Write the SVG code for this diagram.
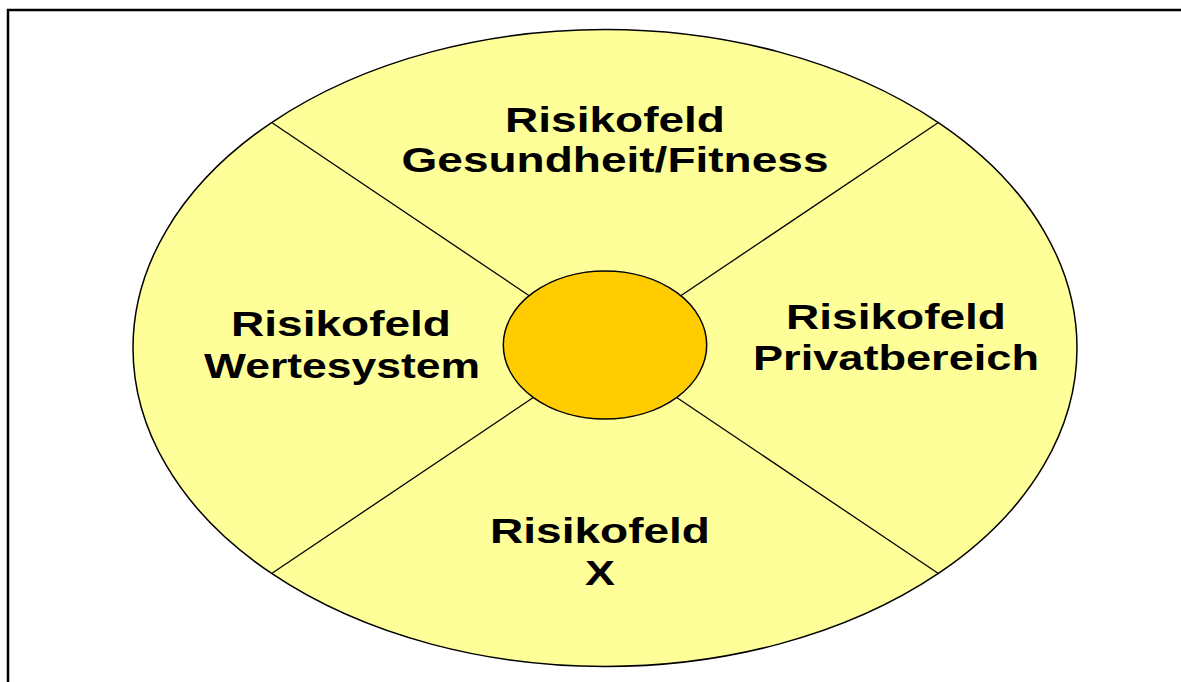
<svg xmlns="http://www.w3.org/2000/svg" width="1181" height="682" viewBox="0 0 1181 682">
<style>
.lbl{font-family:"Liberation Sans",Arial,sans-serif;font-weight:bold;font-size:35px;fill:#000;text-anchor:middle}
.div{stroke:#000;stroke-width:1.3;fill:none}
</style>
<rect width="1181" height="682" fill="#fff"/>
<path d="M8,682 V10 H1181" fill="none" stroke="#000" stroke-width="2.5"/>
<g id="outer">
<ellipse cx="605" cy="348" rx="472" ry="318.5" fill="#FFFF99" stroke="#000" stroke-width="1.5"/>
</g>
<g id="connectors">
<line class="div" x1="272" y1="122.7" x2="540" y2="303"/>
<line class="div" x1="938" y1="122.7" x2="670" y2="303"/>
<line class="div" x1="272" y1="573.3" x2="540" y2="393"/>
<line class="div" x1="938" y1="573.3" x2="670" y2="393"/>
</g>
<g id="center">
<ellipse cx="605" cy="345" rx="101.7" ry="74" fill="#FFCC00" stroke="#000" stroke-width="1.5"/>
</g>
<g id="field-top">
<text class="lbl" x="615" y="132" textLength="220" lengthAdjust="spacingAndGlyphs">Risikofeld</text>
<text class="lbl" x="615" y="172" textLength="427" lengthAdjust="spacingAndGlyphs">Gesundheit/Fitness</text>
</g>
<g id="field-left">
<text class="lbl" x="341" y="336" textLength="220" lengthAdjust="spacingAndGlyphs">Risikofeld</text>
<text class="lbl" x="342" y="378" textLength="276" lengthAdjust="spacingAndGlyphs">Wertesystem</text>
</g>
<g id="field-right">
<text class="lbl" x="896" y="329" textLength="220" lengthAdjust="spacingAndGlyphs">Risikofeld</text>
<text class="lbl" x="896" y="370" textLength="286" lengthAdjust="spacingAndGlyphs">Privatbereich</text>
</g>
<g id="field-bottom">
<text class="lbl" x="600" y="543" textLength="220" lengthAdjust="spacingAndGlyphs">Risikofeld</text>
<text class="lbl" x="600" y="585" textLength="30" lengthAdjust="spacingAndGlyphs">X</text>
</g>
</svg>
